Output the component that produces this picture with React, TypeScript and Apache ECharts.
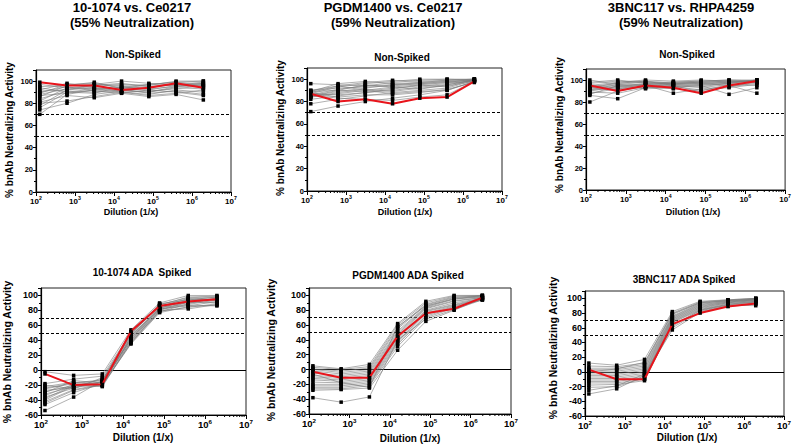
import React, { useEffect, useRef } from "react";
import * as echarts from "echarts";

// Five-fold serial dilutions (1/x)
const dilutions = [125, 625, 3125, 15625, 78125, 390625, 1953125];

const mainTitles1 = ["10-1074 vs. Ce0217", "PGDM1400 vs. Ce0217", "3BNC117 vs. RHPA4259"];
const mainTitles2 = ["(55% Neutralization)", "(59% Neutralization)", "(59% Neutralization)"];
const subTitles = ["Non-Spiked", "Non-Spiked", "Non-Spiked", "10-1074 ADA  Spiked", "PGDM1400 ADA Spiked", "3BNC117 ADA Spiked"];
const xTitle = "Dilution (1/x)";
const yTitle = "% bnAb Neutralizing Activity";
const refLines = [70, 50];

// Panel 1: 10-1074 Non-Spiked
const p1Red = [99, 96, 96, 92, 94, 98, 94];
const p1Gray = [
  [70, 88, 92, 94, 95, 97, 96],
  [74, 80, 88, 91, 90, 94, 93],
  [76, 90, 93, 95, 92, 96, 98],
  [78, 92, 94, 93, 97, 99, 97],
  [80, 82, 86, 90, 88, 92, 90],
  [82, 94, 96, 98, 95, 97, 99],
  [84, 91, 90, 92, 94, 98, 95],
  [86, 96, 97, 96, 93, 95, 97],
  [87, 89, 92, 90, 87, 89, 92],
  [88, 93, 95, 97, 96, 100, 100],
  [89, 97, 98, 94, 91, 93, 96],
  [90, 95, 91, 89, 86, 88, 83],
  [91, 92, 97, 100, 98, 96, 94],
  [92, 98, 94, 92, 90, 95, 98],
  [94, 90, 89, 95, 97, 99, 100],
  [95, 96, 99, 93, 89, 91, 88],
  [97, 94, 93, 91, 94, 97, 95],
  [81, 87, 85, 89, 92, 90, 87],
];

// Panel 2: PGDM1400 Non-Spiked
const p2Red = [87, 80, 82, 78, 83, 84, 98];
const p2Gray = [
  [71, 76, 80, 83, 86, 90, 98],
  [78, 82, 85, 88, 90, 92, 99],
  [82, 85, 88, 90, 93, 95, 99],
  [84, 87, 90, 93, 95, 97, 100],
  [85, 89, 92, 95, 97, 99, 100],
  [86, 91, 94, 97, 99, 100, 100],
  [87, 93, 96, 98, 100, 100, 99],
  [88, 94, 97, 99, 98, 99, 100],
  [89, 96, 98, 96, 97, 98, 99],
  [90, 92, 93, 94, 96, 97, 98],
  [96, 95, 94, 95, 96, 98, 99],
  [84, 88, 91, 89, 92, 94, 98],
  [88, 84, 86, 86, 88, 91, 97],
  [86, 83, 82, 81, 84, 86, 98],
  [89, 90, 89, 92, 94, 96, 99],
  [87, 86, 88, 91, 95, 93, 100],
  [85, 90, 95, 93, 91, 95, 99],
  [90, 94, 90, 87, 89, 90, 98],
];

// Panel 3: 3BNC117 Non-Spiked
const p3Red = [95, 90, 95, 93, 88, 95, 99];
const p3Gray = [
  [80, 90, 94, 96, 97, 98, 99],
  [86, 83, 93, 94, 95, 97, 100],
  [88, 92, 96, 97, 98, 99, 99],
  [90, 94, 97, 95, 93, 96, 98],
  [91, 96, 98, 98, 99, 100, 100],
  [92, 93, 95, 88, 92, 94, 97],
  [93, 97, 99, 97, 96, 98, 99],
  [94, 95, 92, 93, 95, 87, 93],
  [95, 98, 100, 99, 100, 99, 98],
  [96, 91, 94, 96, 94, 97, 100],
  [97, 99, 98, 96, 97, 95, 88],
  [98, 100, 97, 98, 99, 100, 99],
  [100, 96, 95, 94, 91, 93, 96],
  [89, 88, 93, 95, 96, 97, 98],
  [93, 94, 96, 97, 98, 99, 99],
  [91, 92, 94, 92, 90, 96, 95],
  [94, 97, 99, 95, 89, 94, 98],
  [87, 95, 96, 97, 98, 98, 100],
];

// Panel 4: 10-1074 ADA Spiked
const p4Red = [-5, -20, -19, 52, 86, 92, 95];
const p4Gray = [
  [-2, -7, -5, 54, 90, 100, 100],
  [-18, -12, -8, 50, 87, 98, 99],
  [-20, -25, -10, 47, 89, 94, 98],
  [-22, -16, -20, 45, 85, 96, 93],
  [-25, -18, -14, 48, 86, 90, 96],
  [-27, -23, -15, 44, 83, 94, 95],
  [-29, -20, -18, 42, 84, 88, 94],
  [-30, -14, -17, 41, 81, 92, 91],
  [-32, -22, -12, 40, 82, 86, 92],
  [-34, -19, -21, 39, 80, 91, 90],
  [-36, -24, -16, 38, 79, 84, 89],
  [-40, -21, -22, 37, 78, 89, 97],
  [-42, -26, -19, 36, 80, 82, 88],
  [-44, -27, -20, 35, 77, 85, 87],
  [-46, -30, -18, 43, 82, 87, 86],
  [-54, -36, -14, 46, 83, 93, 95],
  [-38, -20, -16, 49, 86, 95, 97],
  [-24, -17, -13, 51, 88, 97, 98],
];

// Panel 5: PGDM1400 ADA Spiked
const p5Red = [-3, -11, -11, 45, 76, 82, 97];
const p5Gray = [
  [5, 1, 7, 62, 92, 100, 100],
  [3, 0, 4, 60, 90, 99, 100],
  [1, -2, 2, 57, 88, 98, 99],
  [0, -4, 0, 55, 87, 97, 99],
  [-2, -6, -2, 52, 85, 96, 98],
  [-5, -8, -4, 50, 84, 95, 98],
  [-8, -10, -6, 48, 83, 93, 97],
  [-10, -12, -8, 46, 82, 92, 97],
  [-12, -14, -10, 44, 80, 90, 96],
  [-14, -16, -12, 42, 79, 88, 96],
  [-17, -18, -14, 40, 78, 87, 95],
  [-20, -20, -16, 38, 76, 86, 95],
  [-22, -22, -18, 36, 74, 85, 94],
  [-24, -24, -20, 34, 72, 84, 94],
  [-26, -26, -22, 31, 70, 83, 95],
  [-28, -27, -25, 26, 65, 80, 96],
  [-38, -44, -37, 40, 68, 81, 94],
  [-6, -18, -24, 58, 86, 95, 100],
];

// Panel 6: 3BNC117 ADA Spiked
const p6Red = [3, -10, -10, 65, 80, 89, 93];
const p6Gray = [
  [12, 9, 17, 82, 96, 98, 100],
  [8, 7, 12, 80, 95, 98, 100],
  [5, 5, 10, 78, 94, 97, 99],
  [3, 3, 8, 76, 93, 97, 99],
  [1, 1, 6, 75, 92, 96, 99],
  [-1, -1, 4, 74, 91, 96, 98],
  [-3, -3, 2, 73, 90, 95, 98],
  [-5, -5, 0, 72, 89, 95, 98],
  [-7, -7, -2, 71, 88, 94, 97],
  [-9, -9, -4, 70, 87, 94, 97],
  [-11, -11, -6, 69, 86, 93, 96],
  [-13, -13, -8, 68, 85, 92, 96],
  [-15, -15, -10, 67, 84, 92, 95],
  [-18, -17, -12, 64, 83, 91, 95],
  [-21, -20, -8, 60, 82, 90, 94],
  [-30, -23, -5, 57, 81, 89, 92],
  [-25, -19, -3, 62, 84, 91, 90],
  [0, 4, 13, 79, 94, 97, 100],
];

const reds = [p1Red, p2Red, p3Red, p4Red, p5Red, p6Red];
const grays = [p1Gray, p2Gray, p3Gray, p4Gray, p5Gray, p6Gray];

// Layout (pixels)
const grids = [
  { left: 36, top: 70, width: 195, height: 122 },
  { left: 307, top: 68, width: 195, height: 123 },
  { left: 586, top: 69, width: 200, height: 121 },
  { left: 41, top: 288, width: 205, height: 127 },
  { left: 309, top: 288, width: 202, height: 126 },
  { left: 585, top: 291, width: 202, height: 125 },
];
const mainTitleX = [132, 393, 681];
const subPos = [[133, 54], [402, 57], [687, 54], [142, 272], [408, 275], [684, 279]];
const yTitlePos = [[9, 130], [280, 128], [559, 125], [7, 352], [271, 350], [553, 348]];
const xTitlePos = [[131, 212], [405, 212], [693, 212], [143, 437], [410, 438], [687, 437]];

const FONT = "'Liberation Sans', Arial, sans-serif";

export default function App() {
  const ref = useRef<HTMLDivElement>(null);
  useEffect(() => {
    if (!ref.current) return;
    const chart = echarts.init(ref.current, null, { renderer: "svg" });
    const minorVals: number[] = [];
    for (let e = 2; e < 7; e++) for (let m = 2; m <= 9; m++) minorVals.push(m * Math.pow(10, e));

    const grid: any[] = [];
    const xAxis: any[] = [];
    const yAxis: any[] = [];
    const series: any[] = [];
    const graphic: any[] = [];

    for (let i = 0; i < 6; i++) {
      const top = i < 3;
      const yMin = top ? 0 : -60;
      const tickFont = top ? 7.5 : 9;
      const xFont = top ? 8 : 9.5;
      grid.push({ ...grids[i], show: true, borderColor: "#222", borderWidth: 1, containLabel: false });
      xAxis.push({
        type: "log",
        logBase: 10,
        gridIndex: i,
        min: 100,
        max: 10000000,
        axisLine: { onZero: false, lineStyle: { color: "#000", width: 1.2 } },
        axisTick: { show: true, length: 4, lineStyle: { color: "#000" } },
        splitLine: { show: false },
        axisLabel: {
          margin: 3,
          color: "#000",
          formatter: (v: number) => `{b|10}{s|${Math.round(Math.log10(v))}}`,
          rich: {
            b: { fontFamily: FONT, fontWeight: "bold", fontSize: xFont, color: "#000", lineHeight: xFont + 4 },
            s: { fontFamily: FONT, fontWeight: "bold", fontSize: xFont * 0.65, color: "#000", verticalAlign: "top", lineHeight: xFont + 4 },
          },
        },
      });
      yAxis.push({
        type: "value",
        gridIndex: i,
        min: yMin,
        max: 110,
        interval: 20,
        axisLine: { show: true, lineStyle: { color: "#000", width: 1.2 } },
        axisTick: { show: true, length: 3, lineStyle: { color: "#000" } },
        minorTick: { show: true, splitNumber: 2, length: 2, lineStyle: { color: "#000" } },
        splitLine: { show: false },
        axisLabel: {
          margin: 3,
          showMaxLabel: false,
          color: "#000",
          fontFamily: FONT,
          fontWeight: "bold",
          fontSize: tickFont,
          formatter: (v: number) => (v % 20 === 0 && v <= 100 ? String(v) : ""),
        },
      });

      // minor log ticks on x axis
      series.push({
        type: "custom",
        xAxisIndex: i,
        yAxisIndex: i,
        silent: true,
        clip: false,
        z: 1,
        data: minorVals.map((v) => [v, yMin]),
        renderItem: (params: any, api: any) => {
          const p = api.coord([api.value(0), api.value(1)]);
          return {
            type: "line",
            shape: { x1: p[0], y1: p[1], x2: p[0], y2: p[1] + 2 },
            style: { stroke: "#000", lineWidth: 1 },
          };
        },
      });

      const mlData: any[] = refLines.map((v) => ({ yAxis: v, lineStyle: { type: [3, 2], color: "#000", width: 1 } }));
      if (!top) mlData.push({ yAxis: 0, lineStyle: { type: "solid", color: "#000", width: 1 } });

      grays[i].forEach((row, k) => {
        series.push({
          type: "line",
          xAxisIndex: i,
          yAxisIndex: i,
          data: row.map((v, j) => [dilutions[j], v]),
          symbol: "rect",
          symbolSize: 3.5,
          showSymbol: true,
          itemStyle: { color: "#000" },
          lineStyle: { color: "#7a7a7a", width: 0.6 },
          silent: true,
          z: 2,
          ...(k === 0
            ? { markLine: { silent: true, symbol: "none", label: { show: false }, data: mlData, z: 1 } }
            : {}),
        });
      });
      series.push({
        type: "line",
        xAxisIndex: i,
        yAxisIndex: i,
        data: reds[i].map((v, j) => [dilutions[j], v]),
        symbol: "rect",
        symbolSize: 3.5,
        itemStyle: { color: "#000" },
        lineStyle: { color: "#e8141b", width: 2 },
        silent: true,
        z: 5,
      });

      graphic.push({
        type: "text",
        x: subPos[i][0],
        y: subPos[i][1],
        style: { text: subTitles[i], align: "center", verticalAlign: "middle", font: `bold 10px ${FONT}`, fill: "#000" },
      });
      graphic.push({
        type: "text",
        x: yTitlePos[i][0],
        y: yTitlePos[i][1],
        rotation: Math.PI / 2,
        style: { text: yTitle, align: "center", verticalAlign: "middle", font: `bold ${top ? 10 : 10.5}px ${FONT}`, fill: "#000" },
      });
      graphic.push({
        type: "text",
        x: xTitlePos[i][0],
        y: xTitlePos[i][1],
        style: { text: xTitle, align: "center", verticalAlign: "middle", font: `bold ${top ? 9 : 10}px ${FONT}`, fill: "#000" },
      });
    }
    for (let i = 0; i < 3; i++) {
      graphic.push({
        type: "text",
        x: mainTitleX[i],
        y: 7.5,
        style: { text: mainTitles1[i], align: "center", verticalAlign: "middle", font: `bold 13px ${FONT}`, fill: "#000" },
      });
      graphic.push({
        type: "text",
        x: mainTitleX[i],
        y: 22.5,
        style: { text: mainTitles2[i], align: "center", verticalAlign: "middle", font: `bold 13px ${FONT}`, fill: "#000" },
      });
    }

    chart.setOption({
      animation: false,
      backgroundColor: "#fff",
      grid,
      xAxis,
      yAxis,
      series,
      graphic,
    });
    return () => chart.dispose();
  }, []);
  return <div ref={ref} style={{ position: "fixed", left: 0, top: 0, width: 794, height: 444 }} />;
}
